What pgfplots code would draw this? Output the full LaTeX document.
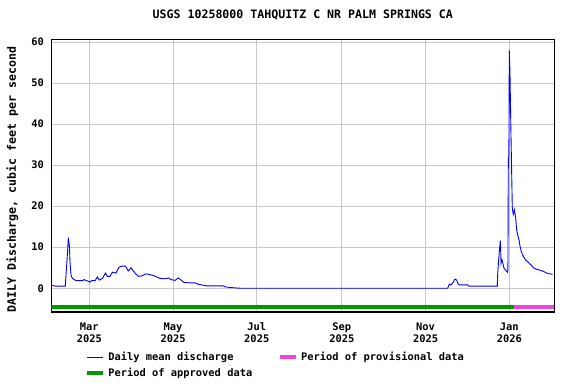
\documentclass[border=0pt]{standalone}
\usepackage{fontspec}
\setmainfont{DejaVu Sans Mono}
\usepackage{pgfplots}
\pgfplotsset{compat=1.18}
\definecolor{apprgreen}{RGB}{0,153,0}
\definecolor{provpink}{RGB}{238,68,221}
\definecolor{gridgray}{RGB}{200,200,200}
\newcommand{\tkfont}{\fontsize{10.4bp}{12bp}\selectfont\bfseries}
\newcommand{\bigfont}{\fontsize{11.6bp}{13bp}\selectfont\bfseries}
\begin{document}
\begin{tikzpicture}
\begin{axis}[
 scale only axis, width=503bp, height=272.7bp,
 xmin=-27.7, xmax=338.8, ymin=-5.8, ymax=60.7,
 xtick={0,61,122,184,245,306},
 xticklabels={{Mar\\2025},{May\\2025},{Jul\\2025},{Sep\\2025},{Nov\\2025},{Jan\\2026}},
 ytick={0,10,...,60},
 major tick length=0pt,
 grid=major,
 major grid style={draw=gridgray, line width=0.8bp},
 axis line style={line width=1.2bp},
 /pgf/number format/assume math mode=true,
 tick label style={font=\tkfont},
 xticklabel style={align=center, yshift=-7bp},
 yticklabel style={xshift=-4bp},
 title={USGS 10258000 TAHQUITZ C NR PALM SPRINGS CA},
 title style={font=\bigfont, at={(0.5,1)}, anchor=base, yshift=15.3bp},
 ylabel={DAILY Discharge, cubic feet per second},
 every axis y label/.style={at={(rel axis cs:0,0.5)}, rotate=90, anchor=center, yshift=39bp, xshift=-4bp, font=\bigfont},
 legend style={at={(rel axis cs:0,0)}, anchor=north west, xshift=34bp, yshift=-40bp, draw=none, fill=none, inner sep=0pt, font=\tkfont, row sep=5.5bp, nodes={inner sep=0pt},
   /tikz/every odd column/.append style={column sep=3bp},
   /tikz/every even column/.append style={column sep=26bp}},
 legend columns=2,
 legend cell align=left,
 legend image code/.code={\draw[#1] (0bp,0bp) -- (16bp,0bp);},
]
\coordinate (sw) at (rel axis cs:0,0);
\addplot[blue, line width=0.9bp, sharp plot] coordinates {
(-27.4,0.73) (-24.7,0.5) (-17.5,0.5) (-17.0,3.2) (-16.0,8.1) (-15.3,12.3) (-14.5,10.3) (-14.1,6.5) (-13.3,3.2) (-12.4,2.4)
(-9.7,1.85) (-4.8,1.85) (-3.9,2.1) (-1.9,1.85) (0.5,1.5) (1.7,1.85) (4.2,1.85) (5.9,2.75) (7.3,2.0) (9.7,2.4)
(11.7,3.7) (13.1,2.9) (15.1,2.9) (16.8,3.9) (19.5,3.7) (21.6,5.1) (23.6,5.4) (26.3,5.4) (28.4,4.2) (29.7,4.7)
(30.4,5.0) (31.6,4.4) (33.8,3.5) (35.7,2.9) (38.2,3.0) (41.3,3.5) (44.2,3.3) (46.7,3.1) (49.1,2.75) (51.5,2.4)
(55.2,2.3) (57.6,2.5) (59.6,2.1) (62.4,1.9) (64.9,2.5) (66.8,2.0) (69.0,1.4) (73.4,1.3) (77.0,1.3) (79.4,0.97)
(81.9,0.8) (85.5,0.57) (97.7,0.57) (98.9,0.33) (103.1,0.16) (109.9,0.0) (261.0,0.0) (261.6,0.4) (262.3,1.0) (263.5,0.8)
(265.2,1.45) (266.2,2.2) (267.7,2.0) (268.4,1.2) (269.6,0.8) (275.7,0.8) (276.6,0.5) (297.3,0.5) (297.5,3.25) (298.3,7.1)
(299.0,10.0) (299.5,11.6) (300.0,6.1) (300.7,6.9) (301.3,6.1) (302.1,4.9) (303.6,4.3) (304.6,3.9) (305.0,4.5) (305.3,31.6)
(305.7,32.2) (306.0,58.0) (306.5,52.5) (307.0,41.9) (307.7,28.7) (308.2,19.5) (308.9,18.0) (309.7,19.1) (310.7,17.0) (311.4,14.2)
(312.1,13.0) (313.1,11.8) (313.8,10.3) (314.6,9.1) (315.5,8.3) (316.7,7.5) (318.2,6.8) (319.9,6.3) (321.8,5.7) (323.5,5.0)
(326.0,4.6) (328.4,4.4) (330.8,4.1) (333.2,3.7) (335.7,3.5) (337.6,3.4)
};
\addlegendentry{Daily mean discharge}
\addplot[provpink, line width=3.8bp] coordinates {(309.4,-4.67) (338.8,-4.67)};
\addlegendentry{Period of provisional data}
\addplot[apprgreen, line width=3.8bp] coordinates {(-27.7,-4.67) (309.4,-4.67)};
\addlegendentry{Period of approved data}
\end{axis}
\pgfresetboundingbox
\path ([shift={(-51.3bp,-72bp)}]sw) rectangle ++(576bp,384bp);
\end{tikzpicture}
\end{document}
